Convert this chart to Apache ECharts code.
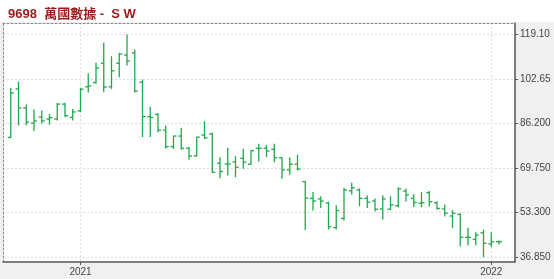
<!DOCTYPE html>
<html>
<head>
<meta charset="utf-8">
<script src="https://cdn.jsdelivr.net/npm/echarts@6/dist/echarts.min.js"></script>
<style>
html,body{margin:0;padding:0;background:#f0f0f0;}
#c{width:554px;height:279px;}
</style>
</head>
<body>
<div id="c"></div>
<script>
// Weekly bars (week-ending Friday)
const dates = [
'2020-10-30','2020-11-06','2020-11-13','2020-11-20','2020-11-27','2020-12-04','2020-12-11','2020-12-18','2020-12-25',
'2021-01-01','2021-01-08','2021-01-15','2021-01-22','2021-01-29','2021-02-05','2021-02-12','2021-02-19','2021-02-26',
'2021-03-05','2021-03-12','2021-03-19','2021-03-26','2021-04-02','2021-04-09','2021-04-16','2021-04-23','2021-04-30',
'2021-05-07','2021-05-14','2021-05-21','2021-05-28','2021-06-04','2021-06-11','2021-06-18','2021-06-25','2021-07-02',
'2021-07-09','2021-07-16','2021-07-23','2021-07-30','2021-08-06','2021-08-13','2021-08-20','2021-08-27','2021-09-03',
'2021-09-10','2021-09-17','2021-09-24','2021-10-01','2021-10-08','2021-10-15','2021-10-22','2021-10-29','2021-11-05',
'2021-11-12','2021-11-19','2021-11-26','2021-12-03','2021-12-10','2021-12-17','2021-12-24','2021-12-31',
'2022-01-07','2022-01-14'
];
const openV = [81.1,99.0,92.0,86.4,88.6,87.9,87.9,93.4,88.5,90.9,99.8,101.4,108.5,99.8,108.5,111.5,112.3,101.5,88.8,89.6,
83.8,77.7,81.6,77.1,74.3,82.0,82.4,71.6,71.3,72.1,73.4,71.2,77.1,77.1,76.7,73.6,69.1,71.2,64.8,58.6,
58.4,56.9,47.8,51.2,61.4,61.7,58.6,57.6,54.7,54.6,55.9,61.3,58.6,56.8,60.7,57.0,54.7,52.1,52.7,44.2,
43.5,45.9,41.8,42.6];
const highV = [99.2,101.6,93.1,91.2,90.9,89.6,93.6,93.7,91.4,99.2,104.5,108.5,115.9,110.9,112.2,118.9,113.4,102.3,92.2,89.8,
85.3,81.6,84.5,77.5,81.2,86.9,82.6,73.6,77.1,74.0,76.7,76.2,78.6,78.1,78.6,73.7,73.6,74.6,64.8,60.8,
59.2,57.2,55.9,62.3,64.2,62.1,59.6,58.4,59.6,59.2,62.5,62.1,59.9,60.7,61.1,57.4,56.2,54.1,52.8,47.6,
45.9,46.9,45.9,42.9];
const lowV = [81.0,85.7,85.7,83.7,86.4,86.0,87.5,88.8,87.5,90.6,97.9,101.1,98.0,99.2,103.5,107.8,97.9,81.4,81.4,83.2,
77.1,77.1,76.7,73.0,74.2,80.8,68.2,66.2,67.2,66.6,69.7,71.2,72.4,74.0,72.1,66.0,67.5,69.1,47.1,54.3,
55.2,47.3,47.3,50.6,60.1,55.9,55.2,53.9,51.0,54.5,55.5,57.6,55.6,55.5,55.8,54.6,52.1,47.9,41.0,41.4,
41.4,37.1,40.8,41.8];
const closeV = [97.5,92.0,86.8,87.2,87.2,88.4,93.4,89.1,90.5,98.9,100.1,106.7,99.7,105.7,111.9,109.3,98.2,88.8,88.5,83.8,
77.7,81.6,77.1,74.2,81.2,80.9,68.2,68.5,71.3,70.1,72.0,76.2,77.1,76.1,73.6,69.1,71.2,69.4,58.7,57.6,
57.6,48.1,54.1,61.7,62.5,58.6,57.2,54.6,58.4,56.2,62.1,59.9,57.1,57.0,57.4,54.9,53.1,53.1,44.2,44.2,
45.1,42.0,42.6,42.6];
const yTicks = [36.85, 53.3, 69.75, 86.2, 102.65, 119.1];
const yTickLabels = ['36.850','53.300','69.750','86.200','102.65','119.10'];
const yearLabelDates = ['2021-01-01','2022-01-07'];
const yearLabels = ['2021','2022'];
const titleText = '9698  萬國數據 -  S W';

const DAY = 86400000;
const t = s => new Date(s + 'T00:00:00Z').getTime();
const data = dates.map((d,i)=>[t(d), openV[i], highV[i], lowV[i], closeV[i]]);
const xMin = t(dates[0]) - 7*DAY;
const xMax = t(dates[dates.length-1]) + 14.45*DAY;
const yMin = 35.11, yMax = 123.35;
const yearTs = yearLabelDates.map(t);

const green = '#20a84c';
function renderItem(params, api){
  const x = api.value(0);
  const o = api.coord([x, api.value(1)]);
  const h = api.coord([x, api.value(2)]);
  const l = api.coord([x, api.value(3)]);
  const c = api.coord([x, api.value(4)]);
  const w = 3;
  const st = {stroke: green, lineWidth: 1.3};
  return {type:'group', children:[
    {type:'line', shape:{x1:h[0], y1:h[1]-0.5, x2:l[0], y2:l[1]+0.5}, style:st},
    {type:'line', shape:{x1:o[0]-w, y1:o[1], x2:o[0], y2:o[1]}, style:st},
    {type:'line', shape:{x1:c[0], y1:c[1], x2:c[0]+w, y2:c[1]}, style:st}
  ]};
}

const gridLine = {show:true, lineStyle:{color:'#dcdcdc', type:[2,2], width:1}};
const chart = echarts.init(document.getElementById('c'), null, {renderer:'canvas'});
chart.setOption({
  animation:false,
  backgroundColor:'#f0f0f0',
  graphic:[{type:'rect', left:0, top:0, shape:{width:554, height:22}, style:{fill:'#ffffff'}, z:-10, silent:true}],
  title:{text:titleText, left:3, top:3,
    textStyle:{color:'#9c1a1c', fontSize:13, fontWeight:'bold', fontFamily:'Liberation Sans, Noto Sans CJK TC, sans-serif'}},
  grid:{left:3, top:23, right:39, bottom:17, show:true, backgroundColor:'#ffffff', borderWidth:0},
  xAxis:[{
    type:'value', min:xMin, max:xMax, position:'bottom',
    axisLine:{show:true, lineStyle:{color:'#555', width:1.5}},
    axisTick:{show:true, customValues:yearTs, length:3, lineStyle:{color:'#555'}},
    axisLabel:{customValues:yearTs, color:'#444', fontSize:10, fontFamily:'Liberation Sans, sans-serif', margin:5,
      formatter:(v)=>{let k=0,b=Infinity; yearTs.forEach((tv,i)=>{if(Math.abs(tv-v)<b){b=Math.abs(tv-v);k=i;}}); return yearLabels[k];}},
    splitLine:gridLine
  },{
    type:'value', min:xMin, max:xMax, position:'top',
    axisLine:{show:true, lineStyle:{color:'#888', type:[2,2]}},
    axisTick:{show:false}, axisLabel:{show:false}, splitLine:{show:false}
  }],
  yAxis:[{
    type:'value', min:yMin, max:yMax, position:'right',
    axisLine:{show:true, lineStyle:{color:'#555', width:1.5}},
    axisTick:{show:true, customValues:yTicks, length:3, lineStyle:{color:'#555'}},
    axisLabel:{customValues:yTicks, color:'#444', fontSize:10, fontFamily:'Liberation Sans, sans-serif', margin:5,
      formatter:(v)=>{let k=0,b=1e9; yTicks.forEach((tv,i)=>{if(Math.abs(tv-v)<b){b=Math.abs(tv-v);k=i;}}); return yTickLabels[k];}},
    splitLine:gridLine
  },{
    type:'value', min:yMin, max:yMax, position:'left',
    axisLine:{show:true, lineStyle:{color:'#888', type:[2,2]}},
    axisTick:{show:false}, axisLabel:{show:false}, splitLine:{show:false}
  }],
  series:[{
    type:'custom', renderItem:renderItem, data:data,
    encode:{x:0, y:[1,2,3,4]}, xAxisIndex:0, yAxisIndex:0, clip:false
  }]
});
</script>
</body>
</html>
